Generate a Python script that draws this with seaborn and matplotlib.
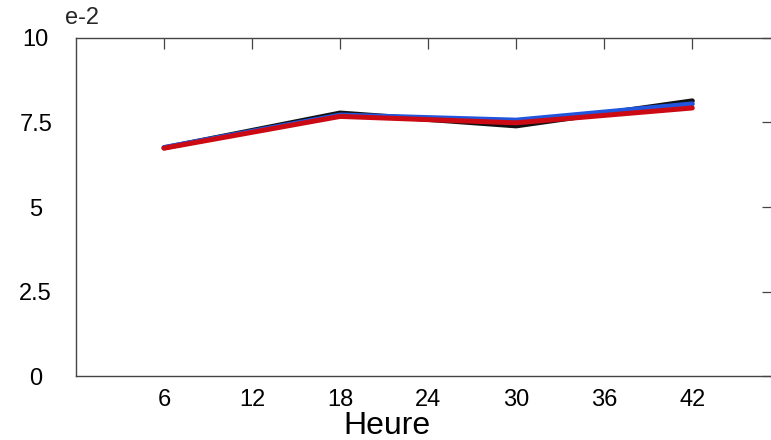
import matplotlib
matplotlib.use("Agg")
import matplotlib.pyplot as plt
import seaborn as sns
import pandas as pd

# Forecast hours and the three series (values in units of 1e-2)
heures = [6, 18, 30, 42]
serie_noire = [6.75, 7.78, 7.40, 8.14]
serie_bleue = [6.76, 7.72, 7.57, 8.05]
serie_rouge = [6.74, 7.68, 7.49, 7.93]

x_ticks = [6, 12, 18, 24, 30, 36, 42]
y_ticks = [0, 2.5, 5, 7.5, 10]
y_tick_labels = ["0", "2.5", "5", "7.5", "10"]

df = pd.DataFrame({
    "Heure": heures * 3,
    "valeur": serie_noire + serie_bleue + serie_rouge,
    "serie": ["noire"] * 4 + ["bleue"] * 4 + ["rouge"] * 4,
})

sns.set_theme(style="white")
plt.rcParams["font.family"] = ["Liberation Sans", "DejaVu Sans"]

W, H = 771, 440
fig = plt.figure(figsize=(W / 100, H / 100), dpi=100)
ax = fig.add_axes([76 / W, (H - 376) / H, (773 - 76) / W, (376 - 38) / H])

sns.lineplot(
    data=df, x="Heure", y="valeur", hue="serie",
    hue_order=["noire", "bleue", "rouge"],
    palette={"noire": "#111111", "bleue": "#2255dd", "rouge": "#cc0a14"},
    linewidth=3.6, legend=False, ax=ax,
)

ax.set_xlim(0, 47.5)
ax.set_ylim(0, 10)
ax.set_xticks(x_ticks)
ax.set_xticklabels([str(t) for t in x_ticks])
ax.set_yticks(y_ticks)
ax.set_yticklabels(y_tick_labels)

ax.tick_params(axis="both", direction="in", length=8, width=0.9,
               color="#444444", top=True, right=True,
               labelcolor="black", labelsize=17)
ax.tick_params(axis="x", pad=9)
ax.tick_params(axis="y", pad=29)
for lab in ax.get_yticklabels():
    lab.set_horizontalalignment("center")

for sp in ax.spines.values():
    sp.set_color("#444444")
    sp.set_linewidth(1.0)

ax.set_xlabel("Heure", fontsize=23, color="black")
ax.xaxis.set_label_coords((387 - 76) / (773 - 76), -(411 - 376) / (376 - 38))
ax.set_ylabel("")

fig.text(82 / W, 1 - 18 / H, "e-2", fontsize=17, ha="center", va="center")

fig.savefig("out.png", dpi=100, facecolor="white")
